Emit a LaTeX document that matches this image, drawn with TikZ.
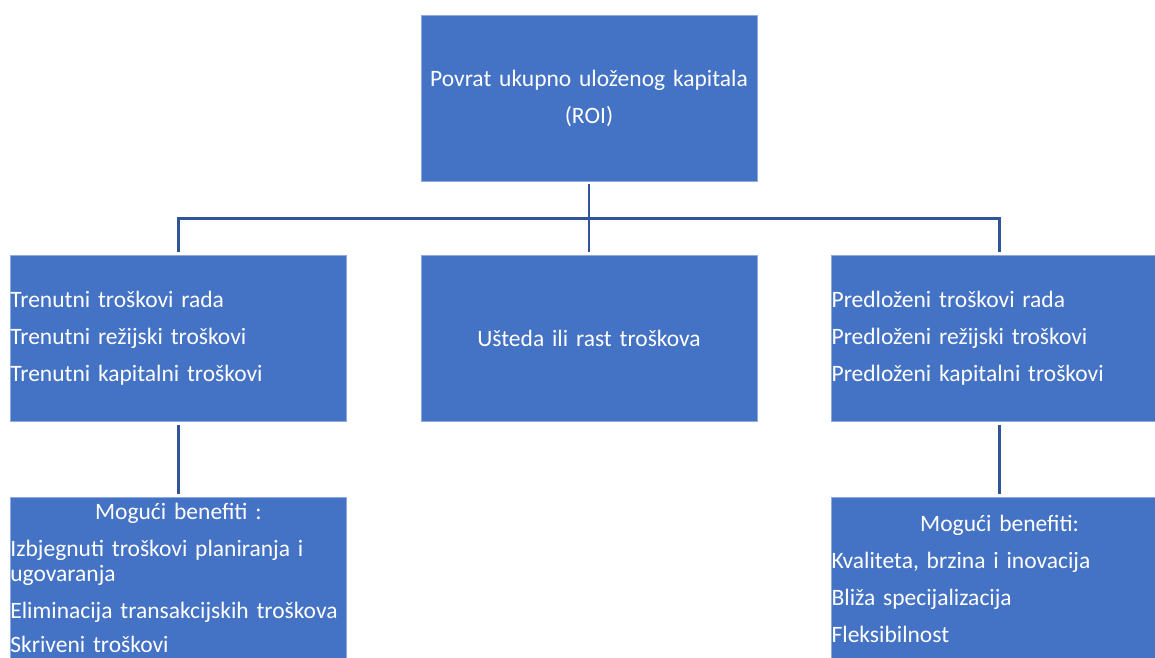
\documentclass[tikz,border=0pt]{standalone}
\usepackage{fontspec}
\setmainfont{Carlito}
\usepackage{xcolor}
\definecolor{boxblue}{HTML}{4472C4}
\definecolor{boxedge}{HTML}{8EA9DB}
\definecolor{linkblue}{HTML}{2F5597}
\usetikzlibrary{positioning,calc}

\begin{document}
\begin{tikzpicture}[x=1pt, y=-1pt,
            every node/.append style = {font=\fontsize{23.5}{25}\selectfont, text=white, inner sep=0pt},
            box/.style = {draw=boxedge, line width=0.6pt, fill=boxblue, minimum width=336pt,
                          minimum height=166pt, text width=336pt},
            link/.style = {draw=linkblue, line width=2.5pt, shorten <=3pt, shorten >=3pt}]
        \useasboundingbox (0,0) rectangle (1155,657);
        \clip (0,0) rectangle (1155,657);
        \node[box, align=center] (nroi) at (589,98) {Povrat ukupno uloženog kapitala\\[12pt](ROI)};
        \node[box, align=center, below=74pt of nroi] (nsav) {Ušteda ili rast troškova};
        \node[box, align=left, left=74pt of nsav] (ncur) {Trenutni troškovi rada\\[12pt]Trenutni režijski troškovi\\[12pt]Trenutni kapitalni troškovi};
        \node[box, align=left, right=74pt of nsav] (nprop) {Predloženi troškovi rada\\[12pt]Predloženi režijski troškovi\\[12pt]Predloženi kapitalni troškovi};
        \node[box, align=left, minimum height=162pt, below=75pt of ncur] (nben1)
            {\makebox[336pt]{Mogući benefiti :}\\[12pt]Izbjegnuti troškovi planiranja i\\ugovaranja\\[12pt]Eliminacija transakcijskih troškova\\[9pt]Skriveni troškovi};
        \node[box, align=left, minimum height=164pt, below=75pt of nprop] (nben2)
            {\makebox[336pt]{Mogući benefiti:}\\[12pt]Kvaliteta, brzina i inovacija\\[12pt]Bliža specijalizacija\\[12pt]Fleksibilnost};
        \coordinate (nbar) at ($(nroi.south)!0.5!(nsav.north)$);
        \draw[link] (nroi) -- (nsav);
        \draw[link] (ncur.north) |- (nbar) -| (nprop.north);
        \draw[link] (ncur) -- (nben1);
        \draw[link] (nprop) -- (nben2);
\end{tikzpicture}
\end{document}
